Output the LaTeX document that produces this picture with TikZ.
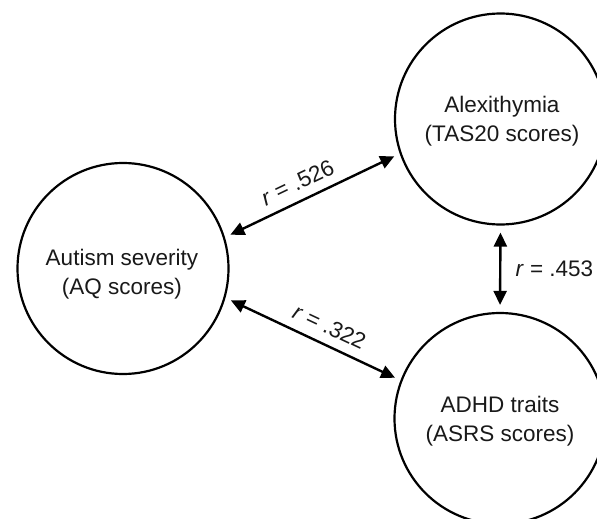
\documentclass[tikz,border=0pt]{standalone}
\usepackage{fontspec}
\setmainfont{Liberation Sans}
\usetikzlibrary{arrows.meta}
\begin{document}
\begin{tikzpicture}[x=1pt,y=-1pt,
  var/.style={circle,draw=black,line width=2.2pt,minimum size=211pt,inner sep=0pt},
  lbl/.style={align=center,font=\fontsize{22.5}{29}\selectfont,text=black!90},
  rlbl/.style={font=\fontsize{22.5}{27}\selectfont,text=black!90},
  link/.style={line width=2.4pt,{Triangle[length=14pt,width=13pt]}-{Triangle[length=14pt,width=13pt]},shorten <=6pt,shorten >=6pt}]
\useasboundingbox (0,0) rectangle (597,519);
\begin{scope}
\clip (0,0) rectangle (597,519);
\node[var] (L) at (123,268.5) {};
\node[var] (T) at (500.5,119) {};
\node[var] (B) at (500,418.5) {};
\end{scope}
\node[lbl] (Lt) at (122,274) {Autism severity\\(AQ scores)};
\node[lbl] (Tt) at (502,121) {Alexithymia\\(TAS20 scores)};
\node[lbl] (Bt) at (500,421) {ADHD traits\\(ASRS scores)};
\draw[link] (L.17) -- node[rlbl,pos=0.46,sloped,above=9pt,inner sep=0pt] (r1) {\textit{r} = .526} (T.199);
\draw[link] (L.-16) -- node[rlbl,pos=0.55,sloped,above=9pt,inner sep=0pt] (r2) {\textit{r} = .322} (B.159);
\draw[link,shorten <=7pt,shorten >=7pt] (T.south) -- (B.north);
\node[rlbl,anchor=west] (r3) at (512,269) {\textit{r} = .453};
\end{tikzpicture}
\end{document}
